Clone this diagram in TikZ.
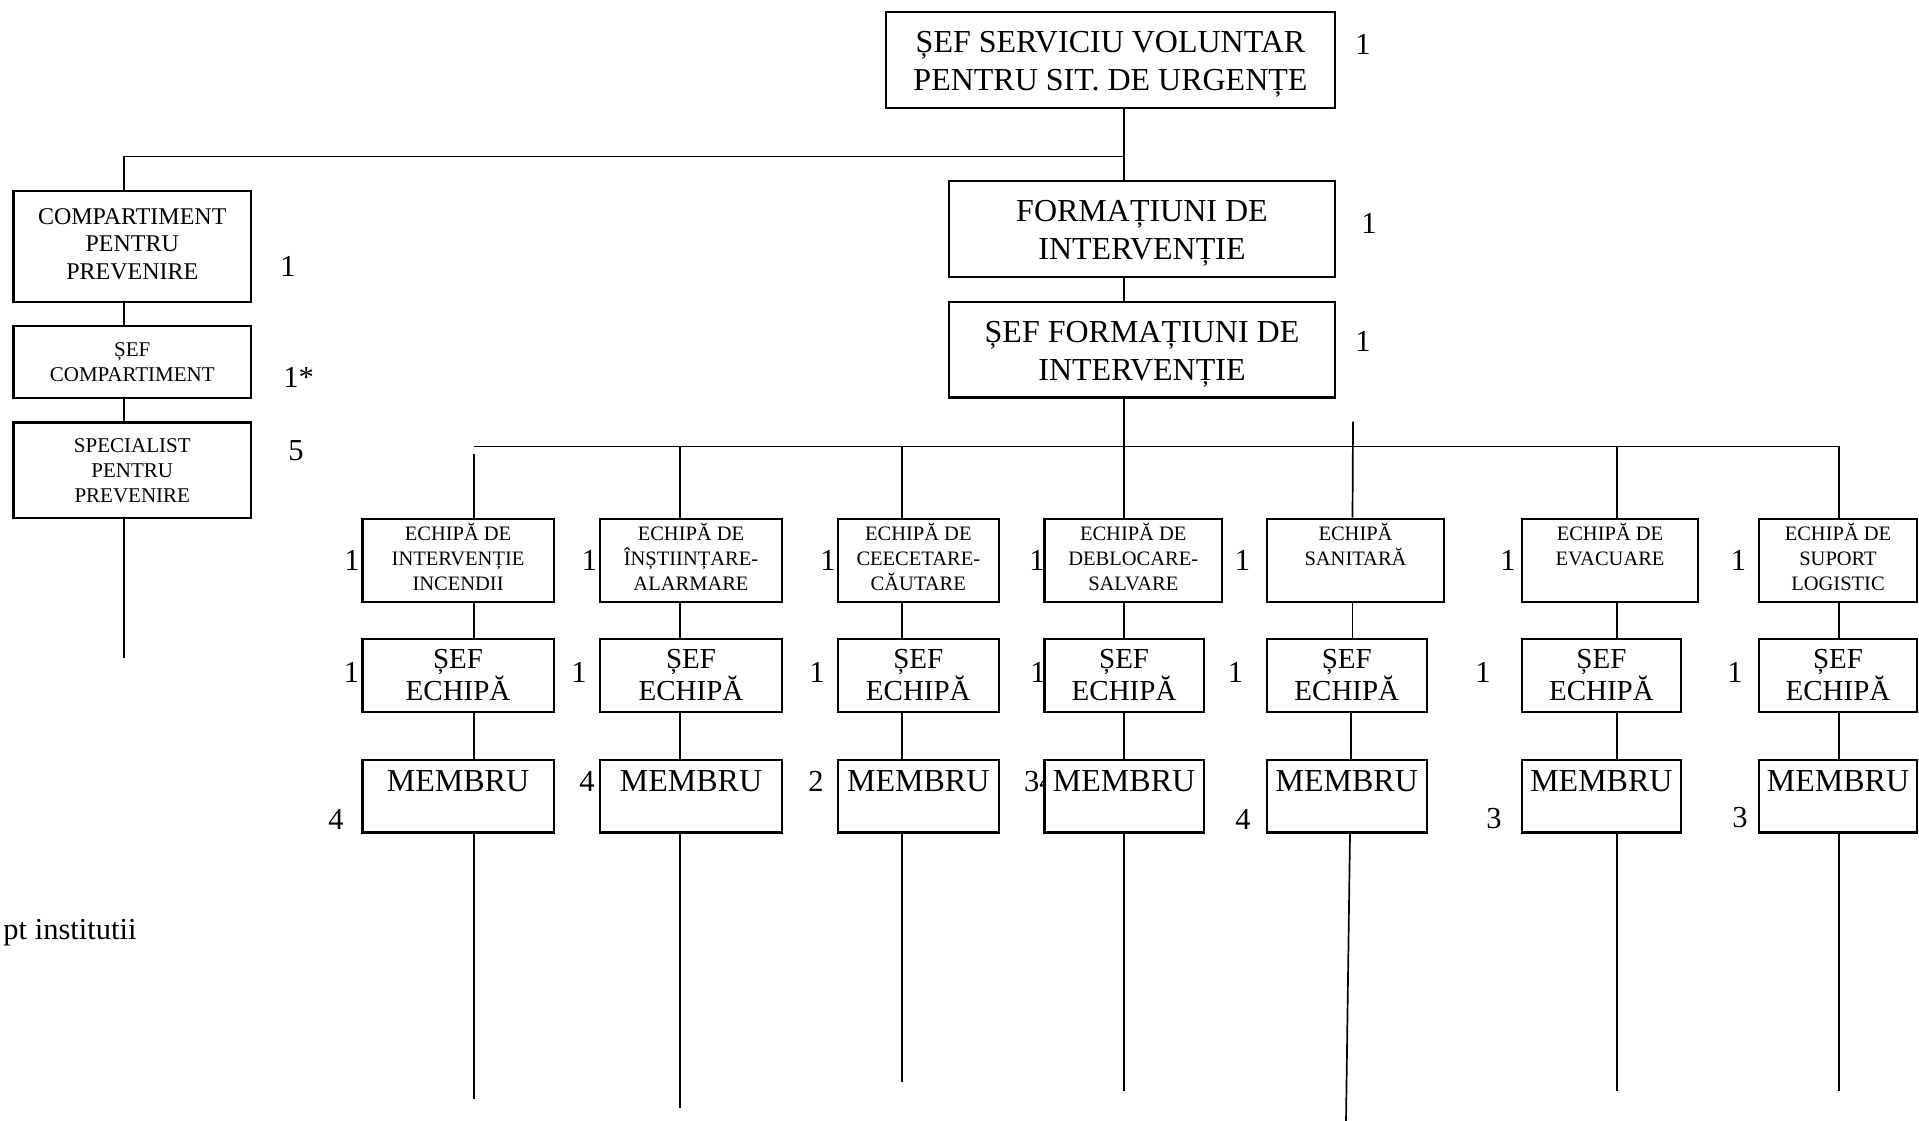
\documentclass[tikz,border=0pt]{standalone}
\usepackage{fontspec}
\setmainfont{Liberation Serif}
\newcommand{\mkbox}[7]{%
  \node[#1, minimum width={(#5)-(#3)}, minimum height={(#6)-(#4)}] (#2) at ({((#3)+(#5))/2},{((#4)+(#6))/2}) {#7};}
\newcommand{\tallrule}{\rule{0pt}{30pt}}
\begin{document}
\begin{tikzpicture}[x=1pt,y=-1pt,
  box/.style={draw, line width=2.2pt, fill=white, inner sep=0pt, align=center},
  bigbox/.style={box, font=\fontsize{32}{38}\selectfont},
  compbox/.style={box, font=\fontsize{24}{27.5}\selectfont, execute at end node={\rule[-5pt]{0pt}{5pt}}},
  smallbox/.style={box, font=\fontsize{21}{25}\selectfont},
  teambox/.style={box, font=\fontsize{20.5}{25}\selectfont, execute at end node={\rule[-7pt]{0pt}{7pt}}},
  sefbox/.style={box, font=\fontsize{29}{32}\selectfont},
  membox/.style={box, font=\fontsize{32}{37}\selectfont, text height=21.2pt, text depth=30pt},
  conn/.style={line width=1.7pt},
  num/.style={inner sep=0pt, font=\fontsize{30.5}{36}\selectfont}]
\useasboundingbox (0,0) rectangle (1919,1120);
\clip (0,0) rectangle (1919,1120);

% numeric labels (drawn first, boxes may overlap them)
\node[num] (n0) at (1363,44.6) {1};
\node[num] (n1) at (1369,223) {1};
\node[num] (n2) at (1363,341) {1};
\node[num] (n3) at (288,266) {1};
\node[num] (n4) at (298.5,377) {1*};
\node[num] (n5) at (296,451) {5};
\node[num] (nt1) at (352,560) {1};
\node[num] (nt2) at (589.5,560) {1};
\node[num] (nt3) at (828,560) {1};
\node[num] (nt4) at (1037,560) {1};
\node[num] (nt5) at (1242.5,560) {1};
\node[num] (nt6) at (1508,560) {1};
\node[num] (nt7) at (1738.5,560) {1};
\node[num] (ns1) at (351.5,672) {1};
\node[num] (ns2) at (579,672) {1};
\node[num] (ns3) at (817,672) {1};
\node[num] (ns4) at (1038,672) {1};
\node[num] (ns5) at (1235.6,672) {1};
\node[num] (ns6) at (1483,672) {1};
\node[num] (ns7) at (1735,672) {1};
\node[num] (nm1) at (336,819) {4};
\node[num] (nm2) at (587,781) {4};
\node[num] (nm3) at (816,781) {2};
\node[num, anchor=west] (nm4) at (1024,782) {34};
\node[num] (nm5) at (1243,819) {4};
\node[num] (nm6) at (1494,819) {3};
\node[num] (nm7) at (1740,818) {3};
\node[num, anchor=base east] (pt) at (136.7,939) {pt institutii};

% boxes
\mkbox{bigbox}{top}{886}{12}{1335}{108}{\tallrule ȘEF SERVICIU VOLUNTAR\\PENTRU SIT. DE URGENȚE}
\mkbox{bigbox}{form}{949}{181}{1335}{277}{\tallrule FORMAȚIUNI DE\\INTERVENȚIE}
\mkbox{bigbox}{sform}{949}{302}{1335}{397.5}{\tallrule ȘEF FORMAȚIUNI DE\\INTERVENȚIE}
\mkbox{compbox}{comp}{13.5}{191}{251}{302}{COMPARTIMENT\\PENTRU\\PREVENIRE}
\mkbox{smallbox}{sefc}{13.5}{325.7}{251}{398}{ȘEF\\COMPARTIMENT}
\mkbox{smallbox}{spec}{13.5}{422.5}{251}{518}{SPECIALIST\\PENTRU\\PREVENIRE}

\mkbox{teambox}{t1}{362.5}{518.6}{553.6}{601.8}{ECHIPĂ DE\\INTERVENȚIE\\INCENDII}
\mkbox{teambox}{t2}{600}{518.6}{782}{601.8}{ECHIPĂ DE\\ÎNȘTIINȚARE-\\ALARMARE}
\mkbox{teambox}{t3}{838}{518.6}{998.6}{601.8}{ECHIPĂ DE\\CEECETARE-\\CĂUTARE}
\mkbox{teambox}{t4}{1044.5}{518.6}{1222}{601.8}{ECHIPĂ DE\\DEBLOCARE-\\SALVARE}
\mkbox{teambox}{t5}{1267}{518.6}{1444}{601.8}{ECHIPĂ\\SANITARĂ\\\phantom{E}}
\mkbox{teambox}{t6}{1522}{518.6}{1698}{601.8}{ECHIPĂ DE\\EVACUARE\\\phantom{E}}
\mkbox{teambox}{t7}{1759}{518.6}{1917}{601.8}{ECHIPĂ DE\\SUPORT\\LOGISTIC}

\mkbox{sefbox}{s1}{362.5}{639}{553.6}{712}{ȘEF\\ECHIPĂ}
\mkbox{sefbox}{s2}{600}{639}{782}{712}{ȘEF\\ECHIPĂ}
\mkbox{sefbox}{s3}{838}{639}{998.6}{712}{ȘEF\\ECHIPĂ}
\mkbox{sefbox}{s4}{1044.5}{639}{1203.7}{712}{ȘEF\\ECHIPĂ}
\mkbox{sefbox}{s5}{1267}{639}{1426.6}{712}{ȘEF\\ECHIPĂ}
\mkbox{sefbox}{s6}{1522}{639}{1680.8}{712}{ȘEF\\ECHIPĂ}
\mkbox{sefbox}{s7}{1759}{639}{1917}{712}{ȘEF\\ECHIPĂ}

\mkbox{membox}{m1}{362.5}{760}{553.6}{832.5}{MEMBRU}
\mkbox{membox}{m2}{600}{760}{782}{832.5}{MEMBRU}
\mkbox{membox}{m3}{838}{760}{998.6}{832.5}{MEMBRU}
\mkbox{membox}{m4}{1044.5}{760}{1203.7}{832.5}{MEMBRU}
\mkbox{membox}{m5}{1267}{760}{1426.6}{832.5}{MEMBRU}
\mkbox{membox}{m6}{1522}{760}{1680.8}{832.5}{MEMBRU}
\mkbox{membox}{m7}{1759}{760}{1917}{832.5}{MEMBRU}

% reference coordinates
\coordinate (cl) at (124,0);
\coordinate (c1) at (474,0);
\coordinate (c2) at (680,0);
\coordinate (c3) at (902,0);
\coordinate (c4) at (1124,0);
\coordinate (c5) at (1352.5,0);
\coordinate (c5b) at (1351,0);
\coordinate (c5c) at (1350,0);
\coordinate (c6) at (1617,0);
\coordinate (c7) at (1839,0);
\coordinate (topbusL) at (124,156.4);
\coordinate (topbusR) at (1124,156.4);
\coordinate (busL) at (474,446.4);
\coordinate (busR) at (1839,446.4);
\coordinate (d1) at (474,454);
\coordinate (d5) at (1353,421.7);
\coordinate (e0) at (124,658);
\coordinate (e1) at (474,1099);
\coordinate (e2) at (680,1108);
\coordinate (e3) at (902,1082);
\coordinate (e4) at (1124,1091);
\coordinate (e5) at (1346,1122);
\coordinate (e6) at (1617,1091);
\coordinate (e7) at (1839,1091);

% connectors
\draw[conn] (top.south -| c4) -- (form.north -| c4);
\draw[conn] (topbusR) -- (topbusL) -- (comp.north -| cl);
\draw[conn] (comp.south -| cl) -- (sefc.north -| cl);
\draw[conn] (sefc.south -| cl) -- (spec.north -| cl);
\draw[conn] (spec.south -| cl) -- (e0);
\draw[conn] (form.south -| c4) -- (sform.north -| c4);
\draw[conn] (sform.south -| c4) -- (t4.north -| c4);
\draw[conn] (busL) -- (busR);
\draw[conn] (d1) -- (t1.north -| c1);
\draw[conn] (busL -| c2) -- (t2.north -| c2);
\draw[conn] (busL -| c3) -- (t3.north -| c3);
\draw[conn] (d5) -- (t5.north -| c5);
\draw[conn] (busL -| c6) -- (t6.north -| c6);
\draw[conn] (busL -| c7) -- (t7.north -| c7);
\foreach \i in {1,2,3,4,6,7} {
  \draw[conn] (t\i.south -| c\i) -- (s\i.north -| c\i);
  \draw[conn] (s\i.south -| c\i) -- (m\i.north -| c\i);
  \draw[conn] (m\i.south -| c\i) -- (e\i);
}
\draw[conn] (t5.south -| c5) -- (s5.north -| c5);
\draw[conn] (s5.south -| c5b) -- (m5.north -| c5b);
\draw[conn] (m5.south -| c5c) -- (e5);
\end{tikzpicture}
\end{document}
